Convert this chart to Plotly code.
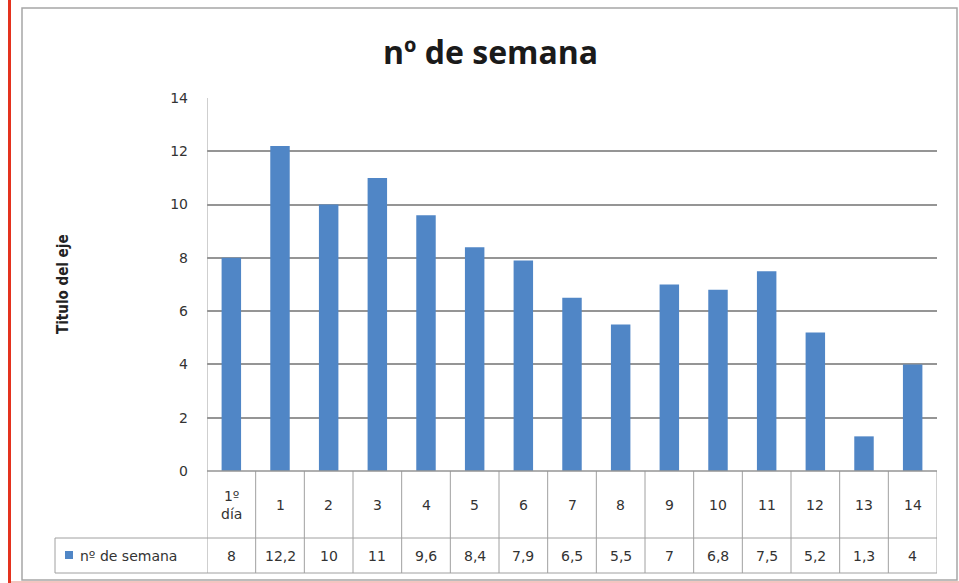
import plotly.graph_objects as go

categories = ["1º día", "1", "2", "3", "4", "5", "6", "7", "8", "9", "10", "11", "12", "13", "14"]
cat_labels = ["1º<br>día", "1", "2", "3", "4", "5", "6", "7", "8", "9", "10", "11", "12", "13", "14"]
values = [8, 12.2, 10, 11, 9.6, 8.4, 7.9, 6.5, 5.5, 7, 6.8, 7.5, 5.2, 1.3, 4]
series_name = "nº de semana"
y_ticks = [0, 2, 4, 6, 8, 10, 12, 14]

W, H = 959, 583
L, R, T, B = 207, 22, 98, 112
pw, ph = W - L - R, H - T - B

def px_x(p):
    return (p - L) / pw

def px_y(p):
    return (H - B - p) / ph

BAR = "#5086C6"
GRID = "#959595"
TABLE = "#a0a0a0"
FONT_SMALL = dict(family="DejaVu Sans", size=14, color="#333333")

xs = list(range(len(categories)))
fig = go.Figure(go.Bar(x=xs, y=values, width=0.4, marker_color=BAR, marker_line_width=0,
                       name=series_name, showlegend=False))

row1 = px_y(538)
row2 = px_y(573)
leg_left = px_x(55)

shapes = []
for k in range(len(categories) + 1):
    shapes.append(dict(type="line", xref="x", yref="paper", x0=k - 0.5, x1=k - 0.5,
                       y0=0 if k > 0 else 1, y1=row2, line=dict(color=TABLE, width=1)))
shapes.append(dict(type="line", xref="paper", yref="paper", x0=leg_left, x1=leg_left,
                   y0=row1, y1=row2, line=dict(color=TABLE, width=1)))
for yy in (row1, row2):
    shapes.append(dict(type="line", xref="paper", yref="paper", x0=leg_left, x1=1,
                       y0=yy, y1=yy, line=dict(color=TABLE, width=1)))
shapes.append(dict(type="line", xref="paper", yref="paper", x0=0, x1=1, y0=0, y1=0,
                   line=dict(color=GRID, width=1.5)))
shapes.append(dict(type="rect", xref="paper", yref="paper", x0=px_x(65), x1=px_x(73),
                   y0=px_y(559), y1=px_y(551), fillcolor=BAR, line_width=0))
shapes.append(dict(type="rect", xref="paper", yref="paper", x0=px_x(22), x1=px_x(957),
                   y0=px_y(8), y1=px_y(580), line=dict(color="#a6a6a6", width=1.5)))
shapes.append(dict(type="line", xref="paper", yref="paper", x0=px_x(9.5), x1=px_x(9.5),
                   y0=px_y(0), y1=px_y(583), line=dict(color="#e4321e", width=3)))
shapes.append(dict(type="line", xref="paper", yref="paper", x0=px_x(11), x1=px_x(959),
                   y0=px_y(582), y1=px_y(582), line=dict(color="#f4c4c0", width=2)))

annotations = []
for i, (lab, v) in enumerate(zip(cat_labels, values)):
    annotations.append(dict(x=i, y=(0 + row1) / 2, xref="x", yref="paper", text=lab,
                            showarrow=False, font=FONT_SMALL, align="center",
                            xanchor="center", yanchor="middle"))
    annotations.append(dict(x=i, y=(row1 + row2) / 2, xref="x", yref="paper",
                            text=("%g" % v).replace(".", ","), showarrow=False, font=FONT_SMALL,
                            xanchor="center", yanchor="middle"))
annotations.append(dict(x=px_x(78), y=(row1 + row2) / 2, xref="paper", yref="paper",
                        text=series_name, showarrow=False, xanchor="left", yanchor="middle",
                        font=FONT_SMALL))
annotations.append(dict(x=px_x(490), y=px_y(52), xref="paper", yref="paper",
                        text="<b>nº de semana</b>", showarrow=False,
                        xanchor="center", yanchor="middle",
                        font=dict(family="Open Sans", size=32, color="#1a1a1a")))
annotations.append(dict(x=px_x(63), y=px_y(284), xref="paper", yref="paper",
                        text="<b>Titulo del eje</b>", textangle=-90, showarrow=False,
                        xanchor="center", yanchor="middle",
                        font=dict(family="DejaVu Sans Condensed", size=15, color="#222222")))

fig.update_layout(
    width=W, height=H,
    margin=dict(l=L, r=R, t=T, b=B, autoexpand=False),
    paper_bgcolor="white", plot_bgcolor="white",
    xaxis=dict(range=[-0.5, len(categories) - 0.5], showticklabels=False, showgrid=False,
               zeroline=False, showline=False, fixedrange=True),
    yaxis=dict(range=[0, 14], tickvals=y_ticks, showgrid=True, gridcolor=GRID, gridwidth=1.5,
               zeroline=False, showline=False, ticklabelstandoff=18, tickfont=FONT_SMALL),
    shapes=shapes, annotations=annotations,
)

fig.write_html("out.html", config={"displayModeBar": False},
               post_script="document.body.style.margin='0';")
